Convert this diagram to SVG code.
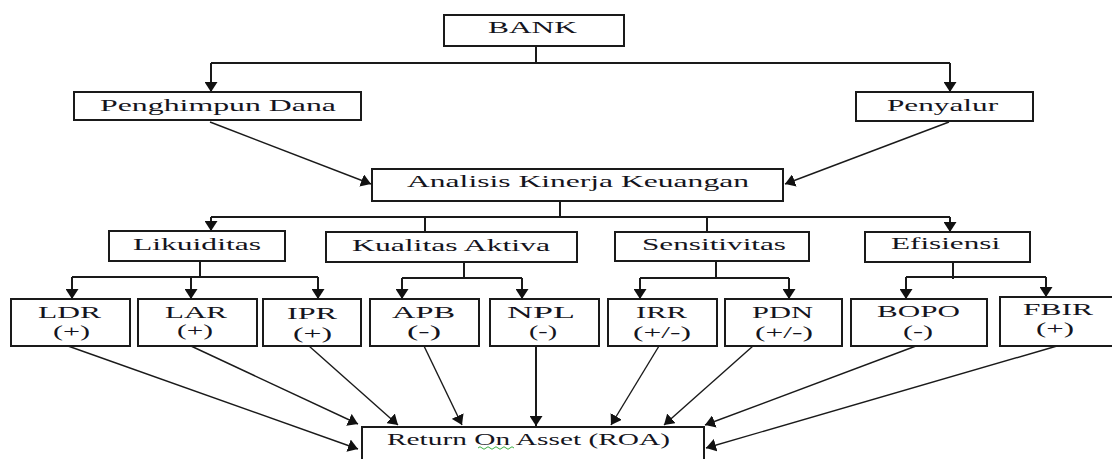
<svg xmlns="http://www.w3.org/2000/svg" width="1112" height="459" viewBox="0 0 1112 459">
<style>
.box{fill:#fff;stroke:#1a1a1a;stroke-width:2}
.t{font-family:"Liberation Serif","Times New Roman",serif;font-size:17.5px;fill:#141420}
.s{font-size:16px}
.ln{fill:none;stroke:#1a1a1a;stroke-width:2}
.dg{fill:none;stroke:#1a1a1a;stroke-width:1.4}
.ar{marker-end:url(#ah)}
</style>
<defs>
<marker id="ah" markerUnits="userSpaceOnUse" markerWidth="10" markerHeight="13" viewBox="0 0 10 13" refX="10" refY="6.5" orient="auto">
<path d="M0,0 L10,6.5 L0,13 z" fill="#111"/>
</marker>
</defs>
<rect width="1112" height="459" fill="#fff"/>

<g id="connectors">
<polyline class="ln" points="536,46 536,63"/>
<polyline class="ln" points="211,63 950,63"/>
<line class="ln ar" x1="211" y1="63" x2="211" y2="92"/>
<line class="ln ar" x1="950" y1="63" x2="950" y2="92"/>
<line class="dg ar" x1="210" y1="122" x2="371" y2="184"/>
<line class="dg ar" x1="949" y1="122" x2="785" y2="184"/>
<polyline class="ln" points="560,201 560,217"/>
<polyline class="ln" points="211,217 950,217"/>
<line class="ln ar" x1="211" y1="217" x2="211" y2="231"/>
<line class="ln ar" x1="950" y1="217" x2="950" y2="232"/>
<polyline class="ln" points="425,217 425,232"/>
<polyline class="ln" points="707,217 707,232"/>
<polyline class="ln" points="200,261 200,277"/>
<polyline class="ln" points="72,277 318,277"/>
<line class="ln ar" x1="72" y1="277" x2="72" y2="299"/>
<line class="ln ar" x1="191" y1="277" x2="191" y2="299"/>
<line class="ln ar" x1="318" y1="277" x2="318" y2="299"/>
<polyline class="ln" points="464,262 464,278"/>
<polyline class="ln" points="402,278 522,278"/>
<line class="ln ar" x1="402" y1="278" x2="402" y2="299"/>
<line class="ln ar" x1="522" y1="278" x2="522" y2="299"/>
<polyline class="ln" points="716,261 716,278"/>
<polyline class="ln" points="640,278 789,278"/>
<line class="ln ar" x1="640" y1="278" x2="640" y2="299"/>
<line class="ln ar" x1="789" y1="278" x2="789" y2="299"/>
<polyline class="ln" points="953,262 953,279"/>
<polyline class="ln" points="906,277 1046,277"/>
<line class="ln ar" x1="906" y1="277" x2="906" y2="299"/>
<line class="ln ar" x1="1046" y1="277" x2="1046" y2="297"/>
<line class="dg ar" x1="68" y1="346" x2="358" y2="449"/>
<line class="dg ar" x1="191" y1="346" x2="358" y2="424"/>
<line class="dg ar" x1="309" y1="346" x2="398" y2="425"/>
<line class="dg ar" x1="424" y1="346" x2="462" y2="425"/>
<line class="ln ar" x1="536" y1="346" x2="536" y2="426"/>
<line class="dg ar" x1="659" y1="346" x2="611" y2="425"/>
<line class="dg ar" x1="753" y1="346" x2="664" y2="425"/>
<line class="dg ar" x1="916" y1="346" x2="705" y2="425"/>
<line class="dg ar" x1="1057" y1="346" x2="706" y2="448"/>
</g>

<g id="bank"><rect class="box" x="444" y="15" width="180" height="31"/><text class="t" transform="translate(488,33) scale(1.8,1)" textLength="49.4" lengthAdjust="spacingAndGlyphs">BANK</text></g>
<g id="penghimpun"><rect class="box" x="74" y="92" width="287" height="28"/><text class="t" transform="translate(100,111) scale(1.8,1)" textLength="131.1" lengthAdjust="spacingAndGlyphs">Penghimpun Dana</text></g>
<g id="penyalur"><rect class="box" x="856" y="92" width="177" height="29"/><text class="t" transform="translate(887,111) scale(1.8,1)" textLength="61.7" lengthAdjust="spacingAndGlyphs">Penyalur</text></g>
<g id="analisis"><rect class="box" x="372" y="169" width="411" height="32"/><text class="t" transform="translate(407,187) scale(1.8,1)" textLength="190" lengthAdjust="spacingAndGlyphs">Analisis Kinerja Keuangan</text></g>
<g id="likuiditas"><rect class="box" x="109" y="231" width="176" height="30"/><text class="t" transform="translate(133,250) scale(1.8,1)" textLength="71.1" lengthAdjust="spacingAndGlyphs">Likuiditas</text></g>
<g id="kualitas"><rect class="box" x="326" y="232" width="251" height="30"/><text class="t" transform="translate(352,251) scale(1.8,1)" textLength="110" lengthAdjust="spacingAndGlyphs">Kualitas Aktiva</text></g>
<g id="sensitivitas"><rect class="box" x="615" y="232" width="194" height="29"/><text class="t" transform="translate(642,250) scale(1.8,1)" textLength="80" lengthAdjust="spacingAndGlyphs">Sensitivitas</text></g>
<g id="efisiensi"><rect class="box" x="865" y="232" width="165" height="30"/><text class="t" transform="translate(891,249) scale(1.8,1)" textLength="60.6" lengthAdjust="spacingAndGlyphs">Efisiensi</text></g>

<g id="ldr"><rect class="box" x="11" y="299" width="119" height="47"/><text class="t s" transform="translate(38,318) scale(1.8,1)" textLength="35" lengthAdjust="spacingAndGlyphs">LDR</text><text class="t s" transform="translate(53,337) scale(1.8,1)" textLength="20.6" lengthAdjust="spacingAndGlyphs">(+)</text></g>
<g id="lar"><rect class="box" x="138" y="299" width="119" height="47"/><text class="t s" transform="translate(165,318) scale(1.8,1)" textLength="34.4" lengthAdjust="spacingAndGlyphs">LAR</text><text class="t s" transform="translate(177,336) scale(1.8,1)" textLength="20" lengthAdjust="spacingAndGlyphs">(+)</text></g>
<g id="ipr"><rect class="box" x="263" y="299" width="98" height="47"/><text class="t s" transform="translate(287,319) scale(1.8,1)" textLength="27.8" lengthAdjust="spacingAndGlyphs">IPR</text><text class="t s" transform="translate(293,339) scale(1.8,1)" textLength="21.7" lengthAdjust="spacingAndGlyphs">(+)</text></g>
<g id="apb"><rect class="box" x="370" y="299" width="109" height="47"/><text class="t s" transform="translate(392,318) scale(1.8,1)" textLength="35" lengthAdjust="spacingAndGlyphs">APB</text><text class="t s" transform="translate(407,337) scale(1.8,1)" textLength="18.9" lengthAdjust="spacingAndGlyphs">(-)</text></g>
<g id="npl"><rect class="box" x="490" y="299" width="109" height="47"/><text class="t s" transform="translate(507,318) scale(1.8,1)" textLength="37.8" lengthAdjust="spacingAndGlyphs">NPL</text><text class="t s" transform="translate(529,337) scale(1.8,1)" textLength="15.6" lengthAdjust="spacingAndGlyphs">(-)</text></g>
<g id="irr"><rect class="box" x="608" y="299" width="109" height="47"/><text class="t s" transform="translate(636,318) scale(1.8,1)" textLength="28.3" lengthAdjust="spacingAndGlyphs">IRR</text><text class="t s" transform="translate(633,338) scale(1.8,1)" textLength="32.2" lengthAdjust="spacingAndGlyphs">(+/-)</text></g>
<g id="pdn"><rect class="box" x="725" y="299" width="117" height="47"/><text class="t s" transform="translate(752,318) scale(1.8,1)" textLength="33.9" lengthAdjust="spacingAndGlyphs">PDN</text><text class="t s" transform="translate(755,338) scale(1.8,1)" textLength="32.2" lengthAdjust="spacingAndGlyphs">(+/-)</text></g>
<g id="bopo"><rect class="box" x="851" y="299" width="136" height="47"/><text class="t s" transform="translate(877,317) scale(1.8,1)" textLength="46.1" lengthAdjust="spacingAndGlyphs">BOPO</text><text class="t s" transform="translate(903,337) scale(1.8,1)" textLength="16.7" lengthAdjust="spacingAndGlyphs">(-)</text></g>
<g id="fbir"><rect class="box" x="1000" y="297" width="116" height="49"/><text class="t s" transform="translate(1023,315) scale(1.8,1)" textLength="38.9" lengthAdjust="spacingAndGlyphs">FBIR</text><text class="t s" transform="translate(1036,334) scale(1.8,1)" textLength="21.1" lengthAdjust="spacingAndGlyphs">(+)</text></g>

<g id="roa"><rect class="box" x="362" y="427" width="342" height="50"/><text class="t" transform="translate(387,445) scale(1.8,1)" textLength="157.2" lengthAdjust="spacingAndGlyphs">Return On Asset (ROA)</text>
<path d="M478,448 q2,-2.5 4,0 t4,0 t4,0 t4,0 t4,0 t4,0 t4,0 t4,0 t4,0" fill="none" stroke="#3cb043" stroke-width="1"/></g>
</svg>
